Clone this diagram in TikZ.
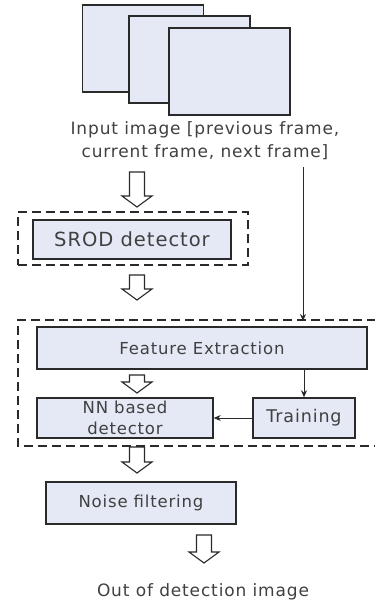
\documentclass[tikz,border=0pt]{standalone}
\usepackage{fontspec}
\setmainfont{DejaVu Sans}[LetterSpace=5]
\usetikzlibrary{arrows.meta}
\definecolor{boxfill}{HTML}{E4E9F5}
\definecolor{linegray}{HTML}{2A2A2A}
\definecolor{textgray}{HTML}{404040}
\tikzset{
  frame/.style={draw=linegray,line width=1.5pt,fill=boxfill,minimum width=121,minimum height=87},
  stage/.style={draw=linegray,line width=1.4pt,fill=boxfill,text=textgray,inner sep=0pt,align=center},
  group/.style={draw=linegray,line width=1.3pt,dash pattern=on 9pt off 5pt},
  link/.style={draw=linegray,line width=0.9pt,-{Stealth[length=7pt,width=6pt]}},
  harrow/.style={draw=linegray,line width=1.1pt,fill=white,line join=miter},
  caption/.style={text=textgray,align=center,font=\fontsize{17}{23}\selectfont}
}
\newcommand{\hollowarrow}[3]{%
  \draw[harrow] (#1-7.5,#2) -- (#1+7.5,#2) -- (#1+7.5,#3-11) -- (#1+15,#3-11)
    -- (#1,#3) -- (#1-15,#3-11) -- (#1-7.5,#3-11) -- cycle;}

\begin{document}
\begin{tikzpicture}[x=1pt,y=-1pt]
\useasboundingbox (0,0) rectangle (375,600);
\foreach \n/\x/\y in {1/143/48.5,2/189.5/59.5,3/229.5/71.5}
  \node[frame] (frame\n) at (\x,\y) {};
\node[caption] (input) at (205,141) {Input image [previous frame,\\current frame, next frame]};
\node[group,minimum width=230,minimum height=53] (srodgroup) at (133,238.5) {};
\node[stage,minimum width=198,minimum height=39,font=\fontsize{19.5}{22}\selectfont] (srod) at (132,239.5) {SROD detector};
\draw[group] (376,320) coordinate (grpNE) -- (18,320) -- (18,446) -- (376,446);
\node[stage,minimum width=330,minimum height=42,font=\fontsize{16.5}{20}\selectfont] (feat) at (202,348) {Feature Extraction};
\node[stage,minimum width=176,minimum height=40,font=\fontsize{16.5}{21}\selectfont] (nn) at (125,418) {NN based\\detector};
\node[stage,minimum width=102,minimum height=40,font=\fontsize{17.5}{20}\selectfont] (train) at (304,418) {Training};
\node[stage,minimum width=190,minimum height=42,font=\fontsize{16.5}{20}\selectfont] (noise) at (141,503) {Noise filtering};
\node[caption] (out) at (203,592) {Out of detection image};
\coordinate (tap) at (303,167);
\coordinate (grptop) at (303,321);
\draw[link] (tap) -- (grptop);
\draw[link] (feat.south -| train.north) -- (train.north);
\draw[link] (train.west) -- (nn.east);
\hollowarrow{137}{172}{207}
\hollowarrow{137}{275}{300}
\hollowarrow{137}{375}{393}
\hollowarrow{137}{447}{473}
\hollowarrow{204}{535}{563}
\end{tikzpicture}
\end{document}
